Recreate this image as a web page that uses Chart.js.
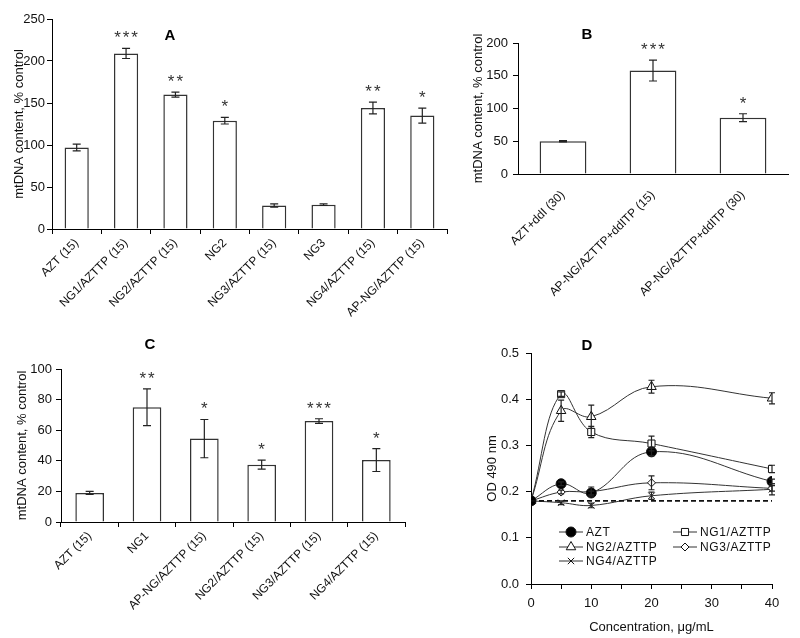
<!DOCTYPE html>
<html lang="en">
<head>
<meta charset="UTF-8">
<title>mtDNA content and OD 490 nm</title>
<script src="https://cdn.jsdelivr.net/npm/chart.js"></script>
<style>
  body {
    margin: 0;
    background: #fff;
    width: 800px;
    height: 638px;
    position: relative;
    overflow: hidden;
  }
  .panel { position: absolute; }
</style>
</head>
<body>
<div class="panel" style="left:0;top:0"><canvas id="chartA" width="460" height="330"></canvas></div>
<div class="panel" style="left:440px;top:0"><canvas id="chartB" width="360" height="330"></canvas></div>
<div class="panel" style="left:0;top:330px"><canvas id="chartC" width="420" height="308"></canvas></div>
<div class="panel" style="left:480px;top:330px"><canvas id="chartD" width="320" height="308"></canvas></div>

<script>
// ---- data ----
const labelsA = ['AZT (15)', 'NG1/AZTTP (15)', 'NG2/AZTTP (15)', 'NG2', 'NG3/AZTTP (15)', 'NG3', 'NG4/AZTTP (15)', 'AP-NG/AZTTP (15)'];
const valuesA = [97, 209, 160, 129, 28, 29, 144, 135];
const errorsA = [4, 6, 3, 4, 2, 1, 7, 9];
const starsA  = ['', '***', '**', '*', '', '', '**', '*'];

const labelsB = ['AZT+ddI (30)', 'AP-NG/AZTTP+ddITP (15)', 'AP-NG/AZTTP+ddITP (30)'];
const valuesB = [50, 158, 86];
const errorsB = [1, 16, 6];
const starsB  = ['', '***', '*'];

const labelsC = ['AZT (15)', 'NG1', 'AP-NG/AZTTP (15)', 'NG2/AZTTP (15)', 'NG3/AZTTP (15)', 'NG4/AZTTP (15)'];
const valuesC = [19, 75, 54.5, 37.5, 66, 40.5];
const errorsC = [1, 12, 12.5, 3, 1.5, 7.5];
const starsC  = ['', '**', '*', '*', '***', '*'];

const concD = [0, 5, 10, 20, 40];
const aztD  = [0.18, 0.217, 0.197, 0.286, 0.222];
const ng1D  = [0.18, 0.411, 0.329, 0.304, 0.249];
const ng2D  = [0.18, 0.375, 0.362, 0.427, 0.402];
const ng3D  = [0.18, 0.199, 0.200, 0.219, 0.207];
const ng4D  = [0.18, 0.176, 0.170, 0.191, 0.205];
const aztErrD = [0, 0.004, 0.004, 0.008, 0.005];
const ng1ErrD = [0, 0.005, 0.012, 0.016, 0.008];
const ng2ErrD = [0, 0.023, 0.025, 0.014, 0.012];
const ng3ErrD = [0, 0.004, 0.010, 0.015, 0.006];
const ng4ErrD = [0, 0.004, 0.005, 0.008, 0.012];
const controlD = 0.18;

const FONT = "'Liberation Sans', Arial, sans-serif";
Chart.defaults.font.family = FONT;
Chart.defaults.font.size = 12;
Chart.defaults.color = '#111';

const toXY = (ys) => ys.map((y, i) => ({ x: concD[i], y: y }));

// error bars + significance stars
const errorBars = {
  id: 'errorBars',
  afterDatasetsDraw(chart, args, opts) {
    const ctx = chart.ctx;
    ctx.save();
    chart.data.datasets.forEach((ds, i) => {
      if (!ds.errors) return;
      const meta = chart.getDatasetMeta(i);
      const yScale = chart.scales[meta.yAxisID];
      meta.data.forEach((el, j) => {
        const e = ds.errors[j];
        const v = typeof ds.data[j] === 'object' ? ds.data[j].y : ds.data[j];
        const top = yScale.getPixelForValue(v + e);
        if (e) {
          const bot = yScale.getPixelForValue(v - e);
          const c = opts.cap || 4;
          ctx.strokeStyle = '#222';
          ctx.lineWidth = 1.2;
          ctx.beginPath();
          ctx.moveTo(el.x, top); ctx.lineTo(el.x, bot);
          ctx.moveTo(el.x - c, top); ctx.lineTo(el.x + c, top);
          ctx.moveTo(el.x - c, bot); ctx.lineTo(el.x + c, bot);
          ctx.stroke();
        }
        if (ds.stars && ds.stars[j]) {
          ctx.fillStyle = '#333';
          ctx.font = '17px ' + FONT;
          ctx.letterSpacing = '2px';
          ctx.textAlign = 'center';
          ctx.textBaseline = 'alphabetic';
          ctx.fillText(ds.stars[j], el.x + 1, top - 5);
        }
      });
    });
    ctx.restore();
  }
};

// panel letter
const panelLetter = {
  id: 'panelLetter',
  afterDraw(chart, args, opts) {
    const ctx = chart.ctx;
    ctx.save();
    ctx.fillStyle = '#000';
    ctx.font = 'bold 15px ' + FONT;
    ctx.textAlign = 'center';
    ctx.textBaseline = 'middle';
    ctx.fillText(opts.text, opts.x, opts.y);
    ctx.restore();
  }
};

function barChart(id, labels, values, errors, stars, cfg) {
  return new Chart(document.getElementById(id), {
    type: 'bar',
    data: {
      labels: labels,
      datasets: [{
        data: values,
        errors: errors,
        stars: stars,
        backgroundColor: '#fff',
        borderColor: '#333',
        borderWidth: 1.5,
        categoryPercentage: 1,
        barPercentage: cfg.barPct
      }]
    },
    options: {
      responsive: false,
      animation: false,
      layout: { padding: cfg.padding },
      plugins: {
        legend: { display: false },
        tooltip: { enabled: false },
        errorBars: { cap: 4 },
        panelLetter: cfg.letter
      },
      scales: {
        x: {
          afterFit: (s) => { s.height = cfg.xHeight; },
          border: { color: '#000', width: 1 },
          grid: cfg.xTicks
            ? { drawOnChartArea: false, tickLength: 5, color: '#000' }
            : { display: false },
          ticks: { minRotation: 45, maxRotation: 45, autoSkip: false, color: '#111', padding: cfg.xTicks ? 2 : 6 }
        },
        y: {
          min: 0,
          max: cfg.yMax,
          afterFit: (s) => { s.width = cfg.yWidth; },
          border: { color: '#000', width: 1 },
          grid: { drawOnChartArea: false, tickLength: 5, color: '#000' },
          ticks: { stepSize: cfg.yStep, color: '#111', padding: cfg.tickPad, font: { size: 13 } },
          title: {
            display: true,
            text: 'mtDNA content, % control',
            color: '#111',
            font: { size: 13 },
            padding: { top: 0, bottom: 0 }
          }
        }
      }
    },
    plugins: [errorBars, panelLetter]
  });
}

barChart('chartA', labelsA, valuesA, errorsA, starsA, {
  barPct: 0.49, yMax: 250, yStep: 50, tickPad: 2,
  padding: { left: 12, top: 19, right: 13, bottom: 0 },
  yWidth: 40, xHeight: 101, xTicks: true,
  letter: { text: 'A', x: 170, y: 36 }
});

barChart('chartB', labelsB, valuesB, errorsB, starsB, {
  barPct: 0.52, yMax: 200, yStep: 50, tickPad: 5,
  padding: { left: 31, top: 43, right: 12, bottom: 0 },
  yWidth: 47, xHeight: 156, xTicks: false,
  letter: { text: 'B', x: 147, y: 35 }
});

barChart('chartC', labelsC, valuesC, errorsC, starsC, {
  barPct: 0.5, yMax: 100, yStep: 20, tickPad: 4,
  padding: { left: 15, top: 39, right: 15, bottom: 0 },
  yWidth: 46, xHeight: 116, xTicks: true,
  letter: { text: 'C', x: 150, y: 15 }
});

// ---- panel D ----
const legendD = {
  id: 'legendD',
  afterDraw(chart) {
    const ctx = chart.ctx;
    const spots = [[79, 202], [193, 202], [79, 217], [193, 217], [79, 231]];
    ctx.save();
    chart.data.datasets.filter(d => d.inLegend).forEach((ds, k) => {
      const [x, y] = spots[k];
      ctx.strokeStyle = '#333';
      ctx.lineWidth = 1;
      ctx.beginPath();
      ctx.moveTo(x, y); ctx.lineTo(x + 24, y);
      ctx.stroke();
      ctx.fillStyle = ds.pointBackgroundColor;
      ctx.strokeStyle = ds.pointBorderColor;
      ctx.lineWidth = 1;
      Chart.helpers.drawPoint(ctx, { pointStyle: ds.pointStyle, radius: ds.pointRadius, borderWidth: 1, rotation: 0 }, x + 12, y);
      ctx.fillStyle = '#111';
      ctx.font = '12px ' + FONT;
      ctx.letterSpacing = '0.6px';
      ctx.textAlign = 'left';
      ctx.textBaseline = 'middle';
      ctx.fillText(ds.label, x + 27, y + 1);
    });
    ctx.restore();
  }
};

function seriesD(label, values, errors, style, radius, fill) {
  return {
    label: label,
    data: toXY(values),
    errors: errors,
    inLegend: true,
    borderColor: '#333',
    borderWidth: 1,
    tension: 0.4,
    pointStyle: style,
    pointRadius: radius,
    pointBackgroundColor: fill,
    pointBorderColor: '#111',
    pointBorderWidth: 1
  };
}

new Chart(document.getElementById('chartD'), {
  type: 'line',
  data: {
    datasets: [
      {
        label: 'control',
        data: [{ x: concD[0], y: controlD }, { x: concD[concD.length - 1], y: controlD }],
        borderColor: '#111',
        borderWidth: 1.6,
        borderDash: [5, 3],
        pointRadius: 0,
        tension: 0
      },
      seriesD('AZT', aztD, aztErrD, 'circle', 5, '#000'),
      seriesD('NG1/AZTTP', ng1D, ng1ErrD, 'rect', 5, '#fff'),
      seriesD('NG2/AZTTP', ng2D, ng2ErrD, 'triangle', 5.5, '#fff'),
      seriesD('NG3/AZTTP', ng3D, ng3ErrD, 'rectRot', 4, '#fff'),
      seriesD('NG4/AZTTP', ng4D, ng4ErrD, 'crossRot', 4.5, '#fff')
    ]
  },
  options: {
    responsive: false,
    animation: false,
    layout: { padding: { left: 5, top: 23, right: 28, bottom: 0 } },
    plugins: {
      legend: { display: false },
      tooltip: { enabled: false },
      errorBars: { cap: 3 },
      panelLetter: { text: 'D', x: 107, y: 16 }
    },
    scales: {
      x: {
        type: 'linear',
        min: 0,
        max: 40,
        afterFit: (s) => { s.height = 54; },
        border: { color: '#000', width: 1 },
        grid: { drawOnChartArea: false, tickLength: 5, color: '#000' },
        ticks: {
          stepSize: 5,
          autoSkip: false,
          maxRotation: 0,
          padding: 7,
          color: '#111',
          font: { size: 13 },
          callback: (v) => (v % 10 === 0 ? v : '')
        },
        title: {
          display: true,
          text: 'Concentration, \u03bcg/mL',
          color: '#111',
          font: { size: 13 },
          padding: { top: 0, bottom: 3 }
        }
      },
      y: {
        min: 0,
        max: 0.5,
        afterFit: (s) => { s.width = 46; },
        border: { color: '#000', width: 1 },
        grid: { drawOnChartArea: false, tickLength: 5, color: '#000' },
        ticks: { stepSize: 0.1, padding: 7, color: '#111', font: { size: 13 }, callback: (v) => v.toFixed(1) },
        title: {
          display: true,
          text: 'OD 490 nm',
          color: '#111',
          font: { size: 13 },
          padding: { top: 0, bottom: 0 }
        }
      }
    }
  },
  plugins: [errorBars, panelLetter, legendD]
});
</script>
</body>
</html>
